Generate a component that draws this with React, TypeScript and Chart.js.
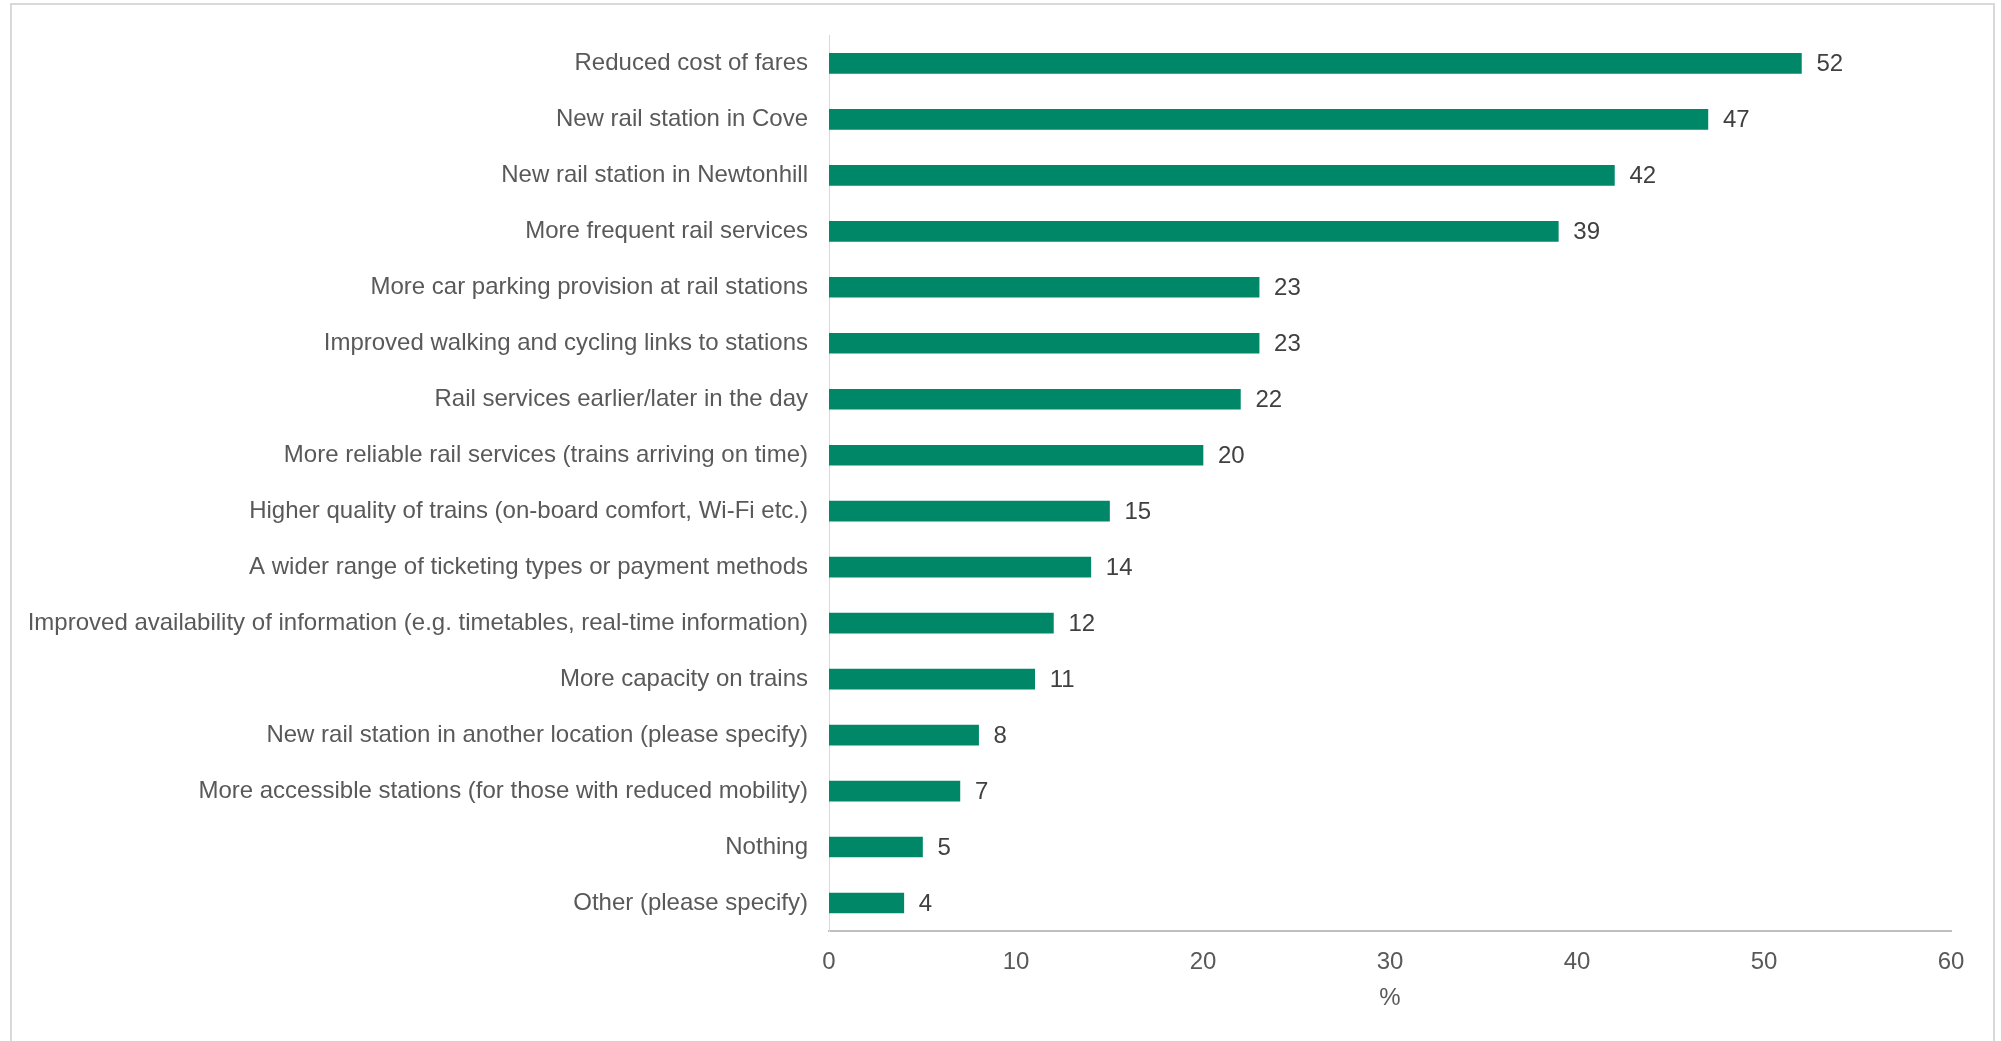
import React, { useEffect, useRef } from "react";
import { Chart, registerables } from "chart.js";

Chart.register(...registerables);

const categories = [
  "Reduced cost of fares",
  "New rail station in Cove",
  "New rail station in Newtonhill",
  "More frequent rail services",
  "More car parking provision at rail stations",
  "Improved walking and cycling links to stations",
  "Rail services earlier/later in the day",
  "More reliable rail services (trains arriving on time)",
  "Higher quality of trains (on-board comfort, Wi-Fi etc.)",
  "A wider range of ticketing types or payment methods",
  "Improved availability of information (e.g. timetables, real-time information)",
  "More capacity on trains",
  "New rail station in another location (please specify)",
  "More accessible stations (for those with reduced mobility)",
  "Nothing",
  "Other (please specify)",
];

const values = [52, 47, 42, 39, 23, 23, 22, 20, 15, 14, 12, 11, 8, 7, 5, 4];

const xMin = 0;
const xMax = 60;
const xStep = 10;
const xTitle = "%";

const FONT = "'Liberation Sans', Arial, sans-serif";

const dataLabels = {
  id: "dataLabels",
  afterDatasetsDraw(chart: any) {
    const ctx = chart.ctx;
    const meta = chart.getDatasetMeta(0);
    ctx.save();
    ctx.font = `24px ${FONT}`;
    ctx.fillStyle = "#404040";
    ctx.textAlign = "left";
    ctx.textBaseline = "middle";
    meta.data.forEach((bar: any, i: number) => {
      ctx.fillText(String(values[i]), bar.x + 15, bar.y + 1);
    });
    ctx.restore();
  },
};

export default function App() {
  const ref = useRef<HTMLCanvasElement | null>(null);

  useEffect(() => {
    if (!ref.current) return;
    const chart = new Chart(ref.current, {
      type: "bar",
      data: {
        labels: categories,
        datasets: [
          {
            data: values,
            backgroundColor: "#008767",
            borderWidth: 0,
            barThickness: 20,
          },
        ],
      },
      options: {
        indexAxis: "y",
        responsive: false,
        animation: false,
        devicePixelRatio: 1,
        layout: { padding: { top: 32, right: 50, left: 0, bottom: 28 } },
        plugins: {
          legend: { display: false },
          tooltip: { enabled: false },
        },
        scales: {
          x: {
            min: xMin,
            max: xMax,
            grid: { display: false, drawTicks: false },
            border: { display: true, color: "#bfbfbf", width: 2 },
            ticks: {
              stepSize: xStep,
              padding: 17,
              color: "#595959",
              font: { family: FONT, size: 24 },
            },
            title: {
              display: true,
              text: xTitle,
              color: "#595959",
              font: { family: FONT, size: 24 },
              padding: { top: 0, bottom: 0 },
            },
            afterFit(scale: any) {
              scale.height = 82;
            },
          },
          y: {
            grid: { display: false, drawTicks: false },
            border: { display: true, color: "#d9d9d9", width: 1 },
            ticks: {
              padding: 21,
              color: "#595959",
              font: { family: FONT, size: 24 },
              autoSkip: false,
            },
            afterFit(scale: any) {
              scale.width = 829;
            },
          },
        },
      },
      plugins: [dataLabels],
    });
    return () => chart.destroy();
  }, []);

  return (
    <div style={{ position: "fixed", left: 0, top: 0, width: 2001, height: 1041, background: "#fff", overflow: "hidden" }}>
      <div
        style={{
          position: "absolute",
          left: 10,
          top: 3,
          width: 1985,
          height: 1100,
          boxSizing: "border-box",
          borderTop: "2px solid #d9d9d9",
          borderLeft: "2px solid #d9d9d9",
          borderRight: "2px solid #d9d9d9",
        }}
      />
      <canvas ref={ref} width={2001} height={1041} style={{ position: "absolute", left: 0, top: 0, width: 2001, height: 1041 }} />
    </div>
  );
}
